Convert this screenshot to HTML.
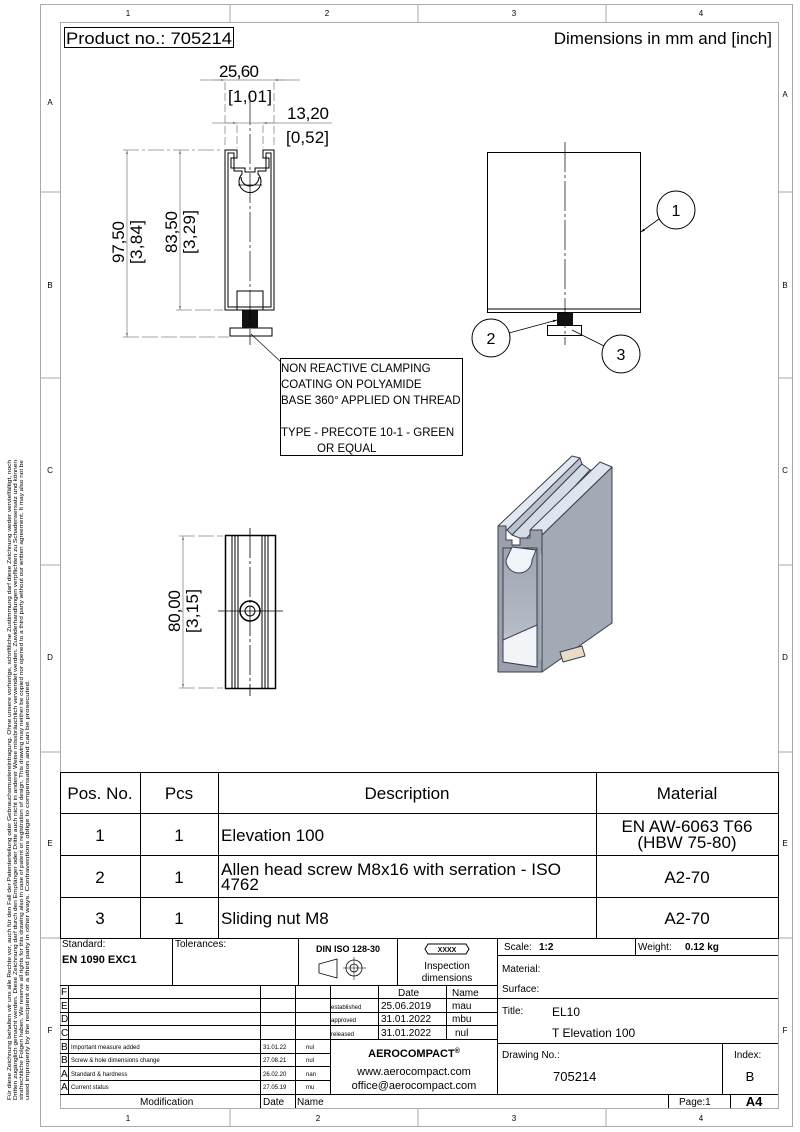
<!DOCTYPE html>
<html><head><meta charset="utf-8"><style>
html,body{margin:0;padding:0;background:#fff}
svg{display:block}
text{font-family:"Liberation Sans",sans-serif;fill:#000}
</style></head><body>
<svg width="800" height="1132" viewBox="0 0 800 1132" xmlns="http://www.w3.org/2000/svg">
<defs>
<marker id="ar" viewBox="0 0 10 10" refX="10" refY="5" markerWidth="9" markerHeight="5" orient="auto-start-reverse"><path d="M0,2 L10,5 L0,8z" fill="#888"/></marker>
<marker id="ak" viewBox="0 0 10 10" refX="10" refY="5" markerWidth="8" markerHeight="5" orient="auto"><path d="M0,2 L10,5 L0,8z" fill="#000"/></marker>
<linearGradient id="inner" x1="0" y1="0" x2="0" y2="1"><stop offset="0" stop-color="#9ea5b2"/><stop offset="0.7" stop-color="#b5bbc6"/><stop offset="1" stop-color="#f4f6fa"/></linearGradient>
</defs>
<!-- frames -->
<rect x="40.5" y="4.5" width="752" height="1122" fill="none" stroke="#aaa"/>
<rect x="60.5" y="22.5" width="718" height="1086" fill="none" stroke="#aaa"/>
<g stroke="#aaa">
<line x1="230" y1="4" x2="230" y2="22"/><line x1="418" y1="4" x2="418" y2="22"/><line x1="606" y1="4" x2="606" y2="22"/>
<line x1="230" y1="1108" x2="230" y2="1126"/><line x1="418" y1="1108" x2="418" y2="1126"/><line x1="606" y1="1108" x2="606" y2="1126"/>
<line x1="40" y1="192" x2="60" y2="192"/><line x1="40" y1="378" x2="60" y2="378"/><line x1="40" y1="565" x2="60" y2="565"/><line x1="40" y1="752" x2="60" y2="752"/><line x1="40" y1="938" x2="60" y2="938"/>
<line x1="778" y1="192" x2="792" y2="192"/><line x1="778" y1="378" x2="792" y2="378"/><line x1="778" y1="565" x2="792" y2="565"/><line x1="778" y1="752" x2="792" y2="752"/><line x1="778" y1="938" x2="792" y2="938"/>
</g>
<g font-size="8" text-anchor="middle">
<text x="128" y="16">1</text><text x="327" y="16">2</text><text x="514" y="16">3</text><text x="701" y="16">4</text>
<text x="128" y="1121">1</text><text x="318" y="1121">2</text><text x="514" y="1121">3</text><text x="701" y="1121">4</text>
<text x="50" y="105">A</text><text x="50" y="288">B</text><text x="50" y="473">C</text><text x="50" y="660">D</text><text x="50" y="846">E</text><text x="50" y="1033">F</text>
<text x="785" y="97">A</text><text x="785" y="288">B</text><text x="785" y="473">C</text><text x="785" y="660">D</text><text x="785" y="846">E</text><text x="785" y="1033">F</text>
</g>
<g font-size="5.3" fill="#333" transform="rotate(-90)">
<text x="-1100" y="11" textLength="640" lengthAdjust="spacingAndGlyphs">Für diese Zeichnung behalten wir uns alle Rechte vor, auch für den Fall der Patenterteilung oder Gebrauchsmustereintragung. Ohne unsere vorherige, schriftliche Zustimmung darf diese Zeichnung weder vervielfältigt, noch</text>
<text x="-1100" y="17" textLength="640" lengthAdjust="spacingAndGlyphs">Dritten zugänglich gemacht werden. Diese Zeichnung darf durch den Empfänger oder Dritte auch nicht in anderer Weise missbräuchlich verwendet werden. Zuwiderhandlungen verpflichten zu Schadensersatz und können</text>
<text x="-1100" y="23" textLength="640" lengthAdjust="spacingAndGlyphs">strafrechtliche Folgen haben. We reserve all rights for this drawing also in case of patent or registration of design. This drawing may neither be copied nor opened to a third party without our written agreement. It may also not be</text>
<text x="-1100" y="29" textLength="420" lengthAdjust="spacingAndGlyphs">used improperly by the recipient or a third party in other ways. Contraventions oblige to compensation and can be prosecuted.</text>
</g>
<!-- header -->
<rect x="64.5" y="27.5" width="169" height="20" fill="none" stroke="#000"/>
<text x="66" y="44" font-size="17" textLength="166" lengthAdjust="spacingAndGlyphs">Product no.: 705214</text>
<text x="772" y="44" font-size="17" text-anchor="end">Dimensions in mm and [inch]</text>

<!-- FRONT VIEW -->
<g fill="none" stroke="#000" stroke-width="1">
<path d="M225,150 H237 V158 H231 V168 H245 L245,172 H255 V168 H269 V158 H263 V150 H274 V310 H225 Z"/>
<path d="M228,153 H234 V171 H242 V174 A11,11 0 1 0 258,174 V171 H266 V153 H271 V307 H228 Z"/>
<path d="M241,177 A9,9 0 1 0 259,177"/>
<rect x="237" y="291" width="26" height="19"/>
<rect x="230" y="328" width="42" height="8"/>
</g>
<rect x="242" y="310" width="16" height="18" fill="#111"/>
<g stroke="#000" stroke-width="0.7">
<line x1="250" y1="95" x2="250" y2="345" stroke-dasharray="30,3,3,3"/>
<line x1="238" y1="185" x2="262" y2="185"/>
<line x1="281" y1="362" x2="251" y2="334"/>
</g>
<!-- dims -->
<g stroke="#888" stroke-width="0.8" fill="none">
<line x1="200" y1="80" x2="300" y2="80"/>
<line x1="213" y1="80" x2="225" y2="80" marker-end="url(#ar)"/>
<line x1="286" y1="80" x2="274" y2="80" marker-end="url(#ar)"/>
<line x1="212" y1="123" x2="332" y2="123"/>
<line x1="225" y1="123" x2="237" y2="123" marker-end="url(#ar)"/>
<line x1="275" y1="123" x2="263" y2="123" marker-end="url(#ar)"/>
<line x1="225" y1="82" x2="225" y2="148" stroke-dasharray="8,3"/>
<line x1="274" y1="82" x2="274" y2="148" stroke-dasharray="8,3"/>
<line x1="237" y1="125" x2="237" y2="148" stroke-dasharray="8,3"/>
<line x1="263" y1="125" x2="263" y2="148" stroke-dasharray="8,3"/>
<line x1="127" y1="150" x2="127" y2="337" marker-start="url(#ar)" marker-end="url(#ar)"/>
<line x1="180" y1="150" x2="180" y2="310" marker-start="url(#ar)" marker-end="url(#ar)"/>
<line x1="123" y1="150" x2="223" y2="150" stroke-dasharray="16,3,3,3"/>
<line x1="176" y1="310" x2="223" y2="310" stroke-dasharray="16,3"/>
<line x1="123" y1="337" x2="229" y2="337" stroke-dasharray="16,3"/>
<line x1="183" y1="536" x2="183" y2="688" marker-start="url(#ar)" marker-end="url(#ar)"/>
<line x1="179" y1="536" x2="223" y2="536" stroke-dasharray="16,3"/>
<line x1="179" y1="688" x2="223" y2="688" stroke-dasharray="16,3"/>
</g>
<g font-size="17" fill="#808080" lengthAdjust="spacingAndGlyphs">
<text x="219" y="77" fill="#808080" textLength="40">25,60</text>
<text x="228" y="102" fill="#808080" textLength="44">[1,01]</text>
<text x="287" y="119" fill="#808080" textLength="42">13,20</text>
<text x="286" y="143" fill="#808080" textLength="43">[0,52]</text>
<text transform="translate(124,263) rotate(-90)" fill="#808080" textLength="42">97,50</text>
<text transform="translate(142,264) rotate(-90)" fill="#808080" textLength="44">[3,84]</text>
<text transform="translate(177,253) rotate(-90)" fill="#808080" textLength="42">83,50</text>
<text transform="translate(195,254) rotate(-90)" fill="#808080" textLength="44">[3,29]</text>
<text transform="translate(180,632) rotate(-90)" fill="#808080" textLength="42">80,00</text>
<text transform="translate(198,633) rotate(-90)" fill="#808080" textLength="44">[3,15]</text>
</g>
<rect x="280.5" y="358.5" width="182" height="97" fill="none" stroke="#000"/>
<g font-size="11.5">
<text x="281" y="372">NON REACTIVE CLAMPING</text>
<text x="281" y="388">COATING ON POLYAMIDE</text>
<text x="281" y="404">BASE 360° APPLIED ON THREAD</text>
<text x="281" y="436">TYPE - PRECOTE 10-1 - GREEN</text>
<text x="317" y="452">OR EQUAL</text>
</g>

<!-- SIDE VIEW -->
<g fill="none" stroke="#000">
<rect x="487.5" y="152.5" width="153" height="160"/>
<line x1="487" y1="309" x2="641" y2="309"/>
<rect x="547.5" y="325.5" width="34" height="10"/>
<line x1="565" y1="142" x2="565" y2="345" stroke-width="0.7" stroke-dasharray="30,3,3,3"/>
<circle cx="676" cy="210" r="19"/><circle cx="491" cy="338" r="19"/><circle cx="621" cy="354" r="19"/>
<line x1="659" y1="219" x2="641" y2="232" stroke-width="0.8" marker-end="url(#ak)"/>
<line x1="509" y1="333" x2="557" y2="320" stroke-width="0.8" marker-end="url(#ak)"/>
<line x1="604" y1="346" x2="572" y2="330" stroke-width="0.8"/>
</g>
<rect x="557" y="313" width="16" height="12" fill="#111"/>
<g font-size="16" text-anchor="middle"><text x="676" y="216">1</text><text x="491" y="344">2</text><text x="621" y="360">3</text></g>

<!-- TOP VIEW -->
<g fill="none" stroke="#000">
<rect x="225.5" y="535.5" width="50" height="153" stroke-width="1.5"/>
<line x1="232" y1="536" x2="232" y2="688"/><line x1="235" y1="536" x2="235" y2="688"/><line x1="238" y1="536" x2="238" y2="688"/>
<line x1="262" y1="536" x2="262" y2="688"/><line x1="265" y1="536" x2="265" y2="688"/><line x1="268" y1="536" x2="268" y2="688"/>
<circle cx="250" cy="611" r="10" fill="#fff" stroke-width="1.5"/><circle cx="250" cy="611" r="5"/>
<line x1="218" y1="611" x2="283" y2="611" stroke-width="0.8"/>
<line x1="250" y1="528" x2="250" y2="696" stroke-width="0.8" stroke-dasharray="30,3,3,3"/>
</g>

<!-- ISO VIEW -->
<g stroke="#3a3f4a" stroke-width="1" stroke-linejoin="round">
<!-- right side face -->
<polygon points="542,535 612,467 612,623 542,672" fill="#a3a9b5"/>
<!-- top left rail -->
<polygon points="498,526 572,456 580,458 507,530" fill="#e2e8f2"/>
<polygon points="507,530 580,458 582,464 512,535" fill="#b9c2d0"/>
<!-- middle groove -->
<polygon points="512,535 582,464 590,470 525,540" fill="#d5dce8"/>
<polygon points="525,540 590,470 600,470 535,540" fill="#eef2f8"/>
<!-- right rail top -->
<polygon points="530,530 600,462 612,467 542,535" fill="#dfe5ef"/>
<!-- front face frame -->
<path d="M498,526 H506 V540 H512 V545 H520 V538 H530 V530 H542 V672 H498 Z" fill="#9aa0ac"/>
<!-- interior -->
<polygon points="503,548 537,548 537,667 503,662" fill="url(#inner)"/>
<polygon points="503,640 537,625 537,667 503,662" fill="#f2f4f8"/>
<path d="M506,560 A13,13 0 1 0 532,560 L536,550 L512,547 Z" fill="#f0f3f8"/>
<line x1="541" y1="554" x2="541" y2="660" stroke="#c0c6d0"/>
<polygon points="560,652 582,646 585,656 563,662" fill="#e8dcc8"/>
</g>

<!-- BOM TABLE -->
<g stroke="#000" fill="none">
<rect x="60.5" y="772.5" width="718" height="166"/>
<line x1="60" y1="813.5" x2="778" y2="813.5"/><line x1="60" y1="855.5" x2="778" y2="855.5"/><line x1="60" y1="897.5" x2="778" y2="897.5"/>
<line x1="140.5" y1="772" x2="140.5" y2="938"/><line x1="218.5" y1="772" x2="218.5" y2="938"/><line x1="596.5" y1="772" x2="596.5" y2="938"/>
</g>
<g font-size="17" text-anchor="middle">
<text x="100" y="799">Pos. No.</text><text x="179" y="799">Pcs</text><text x="407" y="799">Description</text><text x="687" y="799">Material</text>
<text x="100" y="841">1</text><text x="179" y="841">1</text>
<text x="100" y="883">2</text><text x="179" y="883">1</text><text x="687" y="883">A2-70</text>
<text x="100" y="924">3</text><text x="179" y="924">1</text><text x="687" y="924">A2-70</text>
<text x="687" y="832">EN AW-6063 T66</text><text x="687" y="848">(HBW 75-80)</text>
</g>
<g font-size="17"><text x="221" y="841">Elevation 100</text><text x="221" y="875" textLength="340" lengthAdjust="spacingAndGlyphs">Allen head screw M8x16 with serration - ISO</text><text x="221" y="890">4762</text><text x="221" y="924">Sliding nut M8</text></g>

<!-- TITLE BLOCK -->
<g stroke="#000" fill="none" stroke-width="1">
<line x1="60" y1="985.5" x2="330" y2="985.5"/>
<line x1="172.5" y1="938" x2="172.5" y2="985"/><line x1="298.5" y1="938" x2="298.5" y2="985"/><line x1="397.5" y1="938" x2="397.5" y2="985"/>
<line x1="497.5" y1="938" x2="497.5" y2="1094"/>
<line x1="330" y1="985.5" x2="497" y2="985.5"/>
<line x1="60" y1="998.5" x2="497" y2="998.5"/><line x1="60" y1="1012.5" x2="497" y2="1012.5"/><line x1="60" y1="1025.5" x2="497" y2="1025.5"/><line x1="60" y1="1039.5" x2="497" y2="1039.5"/>
<line x1="60" y1="1053.5" x2="330" y2="1053.5"/><line x1="60" y1="1066.5" x2="330" y2="1066.5"/><line x1="60" y1="1080.5" x2="330" y2="1080.5"/>
<line x1="60" y1="1094.5" x2="778" y2="1094.5"/>
<line x1="68.5" y1="985" x2="68.5" y2="1094"/><line x1="260.5" y1="985" x2="260.5" y2="1108"/><line x1="295.5" y1="985" x2="295.5" y2="1108"/><line x1="330.5" y1="985" x2="330.5" y2="1094"/>
<line x1="378.5" y1="985" x2="378.5" y2="1039"/><line x1="446.5" y1="985" x2="446.5" y2="1039"/>
<line x1="497" y1="955.5" x2="778" y2="955.5"/><line x1="635.5" y1="938" x2="635.5" y2="955"/>
<line x1="497" y1="998.5" x2="778" y2="998.5"/><line x1="497" y1="1043.5" x2="778" y2="1043.5"/>
<line x1="722.5" y1="1043" x2="722.5" y2="1094"/>
<line x1="668.5" y1="1094" x2="668.5" y2="1108"/><line x1="730.5" y1="1094" x2="730.5" y2="1108"/>
<path d="M428,944 H466 L469,949 L466,954 H428 L425,949 Z"/>
<path d="M319,964 L337,959 V978 L319,973 Z" stroke-width="0.8"/>
<circle cx="354" cy="968" r="8" stroke-width="0.8"/><circle cx="354" cy="968" r="4" stroke-width="0.8"/>
<line x1="343" y1="968" x2="366" y2="968" stroke-width="0.5"/><line x1="354" y1="957" x2="354" y2="980" stroke-width="0.5"/>
</g>
<g font-size="10">
<text x="62" y="947">Standard:</text><text x="175" y="947">Tolerances:</text>
<text x="62" y="963" font-weight="bold" font-size="11">EN 1090 EXC1</text>
<text x="348" y="952" font-weight="bold" text-anchor="middle" font-size="9">DIN ISO 128-30</text>
<text x="447" y="952" font-weight="bold" text-anchor="middle" font-size="7">XXXX</text>
<text x="447" y="969" text-anchor="middle">Inspection</text><text x="447" y="981" text-anchor="middle">dimensions</text>
<text x="504" y="950">Scale:</text><text x="539" y="950" font-weight="bold">1:2</text>
<text x="638" y="950">Weight:</text><text x="685" y="950" font-weight="bold">0.12 kg</text>
<text x="502" y="972">Material:</text><text x="502" y="992">Surface:</text>
<text x="502" y="1014">Title:</text><text x="552" y="1016" font-size="12">EL10</text><text x="552" y="1037" font-size="12">T Elevation 100</text>
<text x="502" y="1058">Drawing No.:</text><text x="553" y="1081" font-size="13">705214</text>
<text x="734" y="1058">Index:</text><text x="750" y="1081" font-size="13" text-anchor="middle">B</text>
<text x="679" y="1105">Page:1</text><text x="754" y="1106" font-size="13" font-weight="bold" text-anchor="middle">A4</text>
<text x="140" y="1105">Modification</text><text x="263" y="1105">Date</text><text x="297" y="1105">Name</text>
<text x="398" y="996">Date</text><text x="452" y="996">Name</text>
<text x="61" y="995">F</text><text x="61" y="1009">E</text><text x="61" y="1022">D</text><text x="61" y="1036">C</text>
<text x="61" y="1050">B</text><text x="61" y="1063">B</text><text x="61" y="1077">A</text><text x="61" y="1090">A</text>
<text x="381" y="1009">25.06.2019</text><text x="452" y="1009">mau</text>
<text x="381" y="1022">31.01.2022</text><text x="452" y="1022">mbu</text>
<text x="381" y="1036">31.01.2022</text><text x="455" y="1036">nul</text>
<text x="414" y="1057" font-weight="bold" text-anchor="middle" font-size="11">AEROCOMPACT<tspan font-size="7" dy="-4">®</tspan></text>
<text x="414" y="1075" text-anchor="middle" font-size="11">www.aerocompact.com</text>
<text x="414" y="1089" text-anchor="middle" font-size="11">office@aerocompact.com</text>
</g>
<g font-size="6">
<text x="331" y="1009">established</text><text x="331" y="1022">approved</text><text x="331" y="1036">released</text>
<text x="71" y="1049">Important measure added</text><text x="263" y="1049">31.01.22</text><text x="306" y="1049">nul</text>
<text x="71" y="1062">Screw &amp; hole dimensions change</text><text x="263" y="1062">27.08.21</text><text x="306" y="1062">nul</text>
<text x="71" y="1076">Standard &amp; hardness</text><text x="263" y="1076">26.02.20</text><text x="306" y="1076">nan</text>
<text x="71" y="1089">Current status</text><text x="263" y="1089">27.05.19</text><text x="306" y="1089">mu</text>
</g>
</svg>
</body></html>
